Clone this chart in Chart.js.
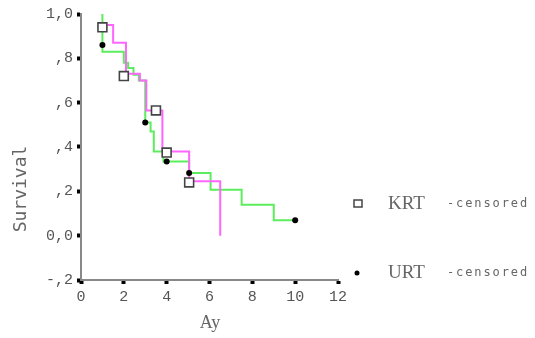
<!DOCTYPE html>
<html>
<head>
<meta charset="utf-8">
<script src="https://cdn.jsdelivr.net/npm/chart.js@4.4.0/dist/chart.umd.min.js"></script>
<style>
html, body { margin: 0; padding: 0; background: #fff; }
</style>
</head>
<body>
<canvas id="km" width="535" height="338"></canvas>
<script>
// URT survival curve (green), step points: time / survival
var urtTime = [1, 1, 2, 2.2, 2.45, 2.7, 3.0, 3.25, 3.4, 3.85, 5.05, 6.05, 7.5, 9, 10];
var urtSurv = [1.0, 0.83, 0.78, 0.756, 0.726, 0.70, 0.51, 0.47, 0.38, 0.335, 0.283, 0.207, 0.14, 0.069, 0.069];

// KRT survival curve (magenta)
var krtTime = [1, 1.5, 2.1, 2.75, 3.05, 3.8, 5.05, 6.5];
var krtSurv = [0.95, 0.87, 0.73, 0.70, 0.565, 0.38, 0.245, 0.0];

// censored marks
var krtCensTime = [1.0, 2.0, 3.5, 4.0, 5.05];
var krtCensSurv = [0.94, 0.72, 0.565, 0.375, 0.24];
var urtCensTime = [1.0, 3.0, 4.0, 5.05, 10];
var urtCensSurv = [0.86, 0.51, 0.335, 0.283, 0.069];

// axes
var xTicks = [0, 2, 4, 6, 8, 10, 12];
var yTicks = [-0.2, 0, 0.2, 0.4, 0.6, 0.8, 1.0];
var yTickLabels = ['-,2', '0,0', ',2', ',4', ',6', ',8', '1,0'];

var toPoints = function (xs, ys) {
    return xs.map(function (x, i) { return {x: x, y: ys[i]}; });
};

// Axis titles + legend, drawn as canvas text
var decor = {
    id: 'decor',
    afterDraw: function (chart) {
        var ctx = chart.ctx;
        ctx.save();
        ctx.fillStyle = '#666';
        ctx.textBaseline = 'middle';

        // y title
        ctx.save();
        ctx.font = '18px "DejaVu Sans Mono"';
        ctx.letterSpacing = '0px';
        ctx.translate(21, 189);
        ctx.rotate(-Math.PI / 2);
        ctx.textAlign = 'center';
        ctx.fillText('Survival', 0, 0);
        ctx.restore();

        // x title
        ctx.font = '18px "Liberation Serif"';
        ctx.textAlign = 'center';
        ctx.fillText('Ay', 210, 323);

        // legend
        var rows = [
            {y: 204, name: 'KRT', square: true},
            {y: 273, name: 'URT', square: false}
        ];
        rows.forEach(function (r) {
            if (r.square) {
                ctx.fillStyle = '#fff';
                ctx.strokeStyle = '#444';
                ctx.lineWidth = 1.5;
                ctx.fillRect(354, r.y - 4, 8, 7);
                ctx.strokeRect(354, r.y - 4, 8, 7);
            } else {
                ctx.fillStyle = '#000';
                ctx.beginPath();
                ctx.arc(357, r.y, 2.5, 0, Math.PI * 2);
                ctx.fill();
            }
            ctx.fillStyle = '#666';
            ctx.textAlign = 'left';
            ctx.font = '19px "Liberation Serif"';
            ctx.letterSpacing = '0px';
            ctx.fillText(r.name, 388, r.y);
            ctx.font = '12px "DejaVu Sans Mono"';
            ctx.letterSpacing = '1.9px';
            ctx.fillText('-censored', 447, r.y);
        });
        ctx.restore();
    }
};

var tickFont = {family: '"Liberation Mono"', size: 15};

new Chart(document.getElementById('km'), {
    type: 'scatter',
    data: {
        datasets: [{
            label: 'URT',
            data: toPoints(urtTime, urtSurv),
            showLine: true,
            stepped: 'before',
            borderColor: '#5ced5c',
            borderWidth: 2,
            pointRadius: 0,
            clip: false,
            order: 3
        }, {
            label: 'KRT',
            data: toPoints(krtTime, krtSurv),
            showLine: true,
            stepped: 'before',
            borderColor: '#ff66ff',
            borderWidth: 2,
            pointRadius: 0,
            clip: false,
            order: 2
        }, {
            label: 'KRT -censored',
            data: toPoints(krtCensTime, krtCensSurv),
            showLine: false,
            pointStyle: 'rect',
            pointRadius: 6.3,
            pointBackgroundColor: '#fff',
            pointBorderColor: '#444',
            pointBorderWidth: 1.6,
            clip: false,
            order: 1
        }, {
            label: 'URT -censored',
            data: toPoints(urtCensTime, urtCensSurv),
            showLine: false,
            pointStyle: 'circle',
            pointRadius: 3,
            pointBackgroundColor: '#000',
            pointBorderColor: '#000',
            pointBorderWidth: 0,
            clip: false,
            order: 0
        }]
    },
    options: {
        responsive: false,
        animation: false,
        devicePixelRatio: 1,
        layout: {padding: {top: 14, right: 197, left: 0, bottom: 0}},
        plugins: {legend: {display: false}, tooltip: {enabled: false}},
        scales: {
            x: {
                type: 'linear',
                min: 0,
                max: 12,
                afterBuildTicks: function (s) { s.ticks = xTicks.map(function (v) { return {value: v}; }); },
                afterFit: function (s) { s.height = 58; },
                ticks: {font: tickFont, color: '#555', padding: 4, maxRotation: 0},
                grid: {drawOnChartArea: false, tickLength: 4, tickWidth: 4, tickColor: '#000'},
                border: {color: '#888', width: 2}
            },
            y: {
                type: 'linear',
                min: -0.2,
                max: 1.0,
                afterBuildTicks: function (s) { s.ticks = yTicks.map(function (v) { return {value: v}; }); },
                afterFit: function (s) { s.width = 81; },
                ticks: {
                    font: tickFont,
                    color: '#555',
                    padding: 4,
                    callback: function (v, i) { return yTickLabels[i]; }
                },
                grid: {drawOnChartArea: false, tickLength: 4, tickWidth: 4, tickColor: '#000'},
                border: {color: '#888', width: 2}
            }
        }
    },
    plugins: [decor]
});
</script>
</body>
</html>
